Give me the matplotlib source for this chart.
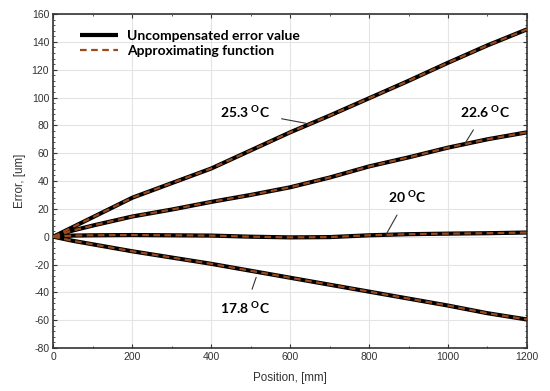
import matplotlib
matplotlib.use("Agg")
import matplotlib.pyplot as plt
from matplotlib.ticker import MultipleLocator

position = [0, 50, 100, 200, 300, 400, 500, 600, 700, 800, 900, 1000, 1100, 1200]
err_253 = [0, 7, 14, 28, 38.5, 49, 62, 75, 87, 99.5, 112, 125, 137.5, 149]
err_226 = [0, 4.5, 8, 14.5, 19.5, 25, 30, 35.5, 42.5, 50.5, 57, 64, 70, 75]
err_200 = [0, 0.8, 1, 1.2, 1, 0.8, 0, -0.5, -0.3, 1, 1.8, 2.2, 2.5, 3]
err_178 = [0, -3, -5.5, -10.5, -15, -19.5, -24.5, -29.5, -34.5, -39.5, -44.5, -49.5, -55, -59.5]

series = [err_253, err_226, err_200, err_178]
labels = ["25.3", "22.6", "20", "17.8"]
legend_labels = ["Uncompensated error value", "Approximating function"]

plt.rcParams['font.family'] = ['Liberation Sans', 'DejaVu Sans']
plt.rcParams['axes.unicode_minus'] = False
plt.rcParams['mathtext.fontset'] = 'custom'
plt.rcParams['mathtext.bf'] = 'Lato:bold'
plt.rcParams['mathtext.rm'] = 'Lato'

fig = plt.figure(figsize=(5.5, 3.91), dpi=100)
ax = fig.add_axes([0.097, 0.110, 0.861, 0.854])

dash_col = '#9a4a1c'
for i, s in enumerate(series):
    ax.plot(position, s, color='black', lw=3.0, solid_capstyle='butt',
            label=legend_labels[0] if i == 0 else None, zorder=3)
    ax.plot(position, s, color=dash_col, lw=1.6, ls=(0, (3, 2)),
            label=legend_labels[1] if i == 0 else None, zorder=4)

ax.set_xlim(0, 1200)
ax.set_ylim(-80, 160)
ax.xaxis.set_major_locator(MultipleLocator(200))
ax.xaxis.set_minor_locator(MultipleLocator(100))
ax.yaxis.set_major_locator(MultipleLocator(20))
ax.yaxis.set_minor_locator(MultipleLocator(4))
ax.grid(True, which='major', color='#e4e4e4', lw=0.8)
ax.set_axisbelow(True)
ax.tick_params(which='both', direction='in', top=True, right=True,
               labelsize=7.5, colors='#333333', pad=3)
ax.tick_params(which='major', length=3)
ax.tick_params(which='minor', length=1.5)
for sp in ax.spines.values():
    sp.set_color('#333333')
    sp.set_linewidth(1.2)

ax.set_xlabel("Position, [mm]", fontsize=8.4, color='#333333', labelpad=7)
ax.set_ylabel("Error, [um]", fontsize=8.4, color='#333333', labelpad=4)

leg = ax.legend(loc='upper left', bbox_to_anchor=(0.03, 0.99), frameon=False,
                prop={'family': 'Lato', 'weight': 'bold', 'size': 10},
                handlelength=2.7, handletextpad=0.7, labelspacing=0.2)

annots = [
    ("25.3", (487, 89.6), (640, 81.5)),
    ("22.6", (1093, 89.8), (1043, 67)),
    ("20", (897, 28.7), (842, 1)),
    ("17.8", (487, -51.4), (514, -29.2)),
]
for t, xy_text, xy in annots:
    ax.annotate(t + r" $^{\mathbf{O}}$C", xy=xy, xytext=xy_text,
                ha='center', va='center', fontsize=10, fontweight='bold',
                family='Lato',
                arrowprops=dict(arrowstyle='-', color='#333333', lw=0.8,
                                shrinkA=6, shrinkB=0), zorder=5)

fig.savefig("out.png", dpi=100)
